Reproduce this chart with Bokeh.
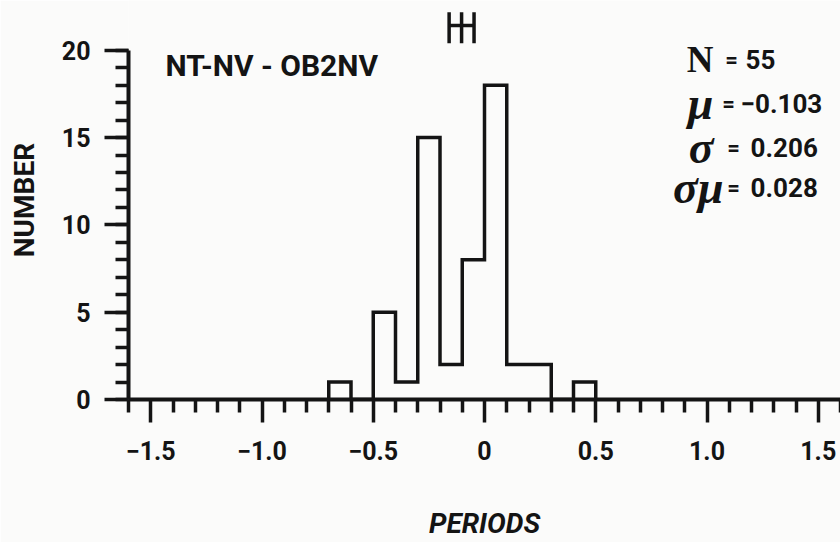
from bokeh.plotting import figure
from bokeh.models import FixedTicker, CustomJSTickFormatter, Label, Range1d
from bokeh.embed import file_html
from bokeh.resources import INLINE

# ---------------- data ----------------
bin_edges = [-0.7, -0.6, -0.5, -0.4, -0.3, -0.2, -0.1, 0.0, 0.1, 0.2, 0.3, 0.4, 0.5]
counts = [1, 0, 5, 1, 15, 2, 8, 18, 2, 2, 0, 1]
x_ticks = [-1.5, -1.0, -0.5, 0.0, 0.5, 1.0, 1.5]
x_tick_labels = ["−1.5", "−1.0", "−0.5", "0", "0.5", "1.0", "1.5"]
x_minor_ticks = [-1.6, -1.4, -1.3, -1.2, -1.1, -0.9, -0.8, -0.7, -0.6, -0.4, -0.3, -0.2,
                 -0.1, 0.1, 0.2, 0.3, 0.4, 0.6, 0.7, 0.8, 0.9, 1.1, 1.2, 1.3, 1.4, 1.6]
y_ticks = [0, 5, 10, 15, 20]
y_minor_ticks = list(range(0, 21))
mu = -0.103
sigma = 0.206
sigma_mu = 0.028
stat_symbols = ["N", "μ", "σ", "σμ"]
stat_values = ["55", "−0.103", "0.206", "0.028"]
title_text = "NT-NV - OB2NV"
x_label = "PERIODS"
y_label = "NUMBER"

# ---------------- style / layout ----------------
INK = "#141414"
BG = "#fbfbfa"
SANS = "Roboto"
SERIF = "Liberation Serif"

p = figure(width=840, height=542,
           x_range=Range1d(-1.6, 1.6), y_range=Range1d(0, 22.85),
           output_backend="svg", toolbar_location=None,
           min_border_left=128, min_border_right=0, min_border_top=0, min_border_bottom=141)
p.background_fill_color = BG
p.border_fill_color = BG
p.outline_line_color = None
p.xgrid.grid_line_color = None
p.ygrid.grid_line_color = None

xa = p.xaxis[0]
xa.ticker = FixedTicker(ticks=x_ticks, minor_ticks=x_minor_ticks)
xa.formatter = CustomJSTickFormatter(
    args=dict(tvals=x_ticks, tlabels=x_tick_labels),
    code="for (let i = 0; i < tvals.length; i++) { if (Math.abs(tvals[i] - tick) < 1e-6) return tlabels[i]; } return '';")
xa.bounds = (-1.6, 1.6)

ya = p.yaxis[0]
ya.ticker = FixedTicker(ticks=y_ticks, minor_ticks=y_minor_ticks)
ya.bounds = (0, 20)

for ax in (xa, ya):
    ax.axis_line_width = 4
    ax.axis_line_color = INK
    ax.major_tick_line_width = 3.5
    ax.minor_tick_line_width = 3.5
    ax.major_tick_line_color = INK
    ax.minor_tick_line_color = INK
    ax.major_tick_in = 0
    ax.minor_tick_in = 0
    ax.minor_tick_out = 13
    ax.major_label_text_font = SANS
    ax.major_label_text_font_style = "bold"
    ax.major_label_text_font_size = "25px"
    ax.major_label_text_color = INK
    ax.axis_label_text_font = SANS
    ax.axis_label_text_font_size = "28px"
    ax.axis_label_text_color = INK

xa.major_tick_out = 23
xa.major_label_standoff = 18
xa.axis_label = x_label
xa.axis_label_text_font_style = "bold italic"
xa.axis_label_standoff = 44

ya.major_tick_out = 24
ya.major_label_standoff = 14
ya.axis_label = y_label
ya.axis_label_text_font_style = "bold"
ya.axis_label_standoff = 18

# histogram outline (step)
step_x = [bin_edges[0]] + bin_edges
step_y = [0] + counts + [0]
p.step(step_x, step_y, mode="after", line_width=3.5, line_color=INK, line_join="miter")

# mean marker with +/- 2 sigma_mu bar
eb_y, eb_lo, eb_hi = 21.42, 20.4, 22.17
p.segment(x0=[mu - 2 * sigma_mu], y0=[eb_y], x1=[mu + 2 * sigma_mu], y1=[eb_y],
          line_width=3.5, line_color=INK)
p.segment(x0=[mu - 2 * sigma_mu, mu, mu + 2 * sigma_mu], y0=[eb_lo] * 3,
          x1=[mu - 2 * sigma_mu, mu, mu + 2 * sigma_mu], y1=[eb_hi] * 3,
          line_width=3.5, line_color=INK)

# title text inside plot
p.add_layout(Label(x=-1.434, y=19.15, text=title_text, text_font=SANS, text_font_style="bold",
                   text_font_size="30px", text_color=INK, text_align="left",
                   text_baseline="alphabetic"))

# statistics block
row_y = [19.49, 16.98, 14.42, 12.14]
sym_x = [1.029, 1.029, 1.029, 1.074]
eq_x = [1.110, 1.097, 1.119, 1.119]
val_x = [1.173, 1.151, 1.196, 1.196]
sym_styles = ["bold", "bold italic", "bold italic", "bold italic"]
sym_sizes = ["37px", "46px", "46px", "46px"]
for i in range(len(stat_symbols)):
    p.add_layout(Label(x=sym_x[i], y=row_y[i], text=stat_symbols[i], text_font=SERIF,
                       text_font_style=sym_styles[i], text_font_size=sym_sizes[i],
                       text_color=INK, text_align="right", text_baseline="alphabetic"))
    p.add_layout(Label(x=eq_x[i], y=row_y[i], text="=", text_font=SANS, text_font_style="bold",
                       text_font_size="22px", text_color=INK, text_align="center",
                       text_baseline="alphabetic"))
    p.add_layout(Label(x=val_x[i], y=row_y[i], text=stat_values[i], text_font=SANS,
                       text_font_style="bold", text_font_size="26px", text_color=INK,
                       text_align="left", text_baseline="alphabetic"))

open("out.html", "w").write(file_html(p, INLINE))
